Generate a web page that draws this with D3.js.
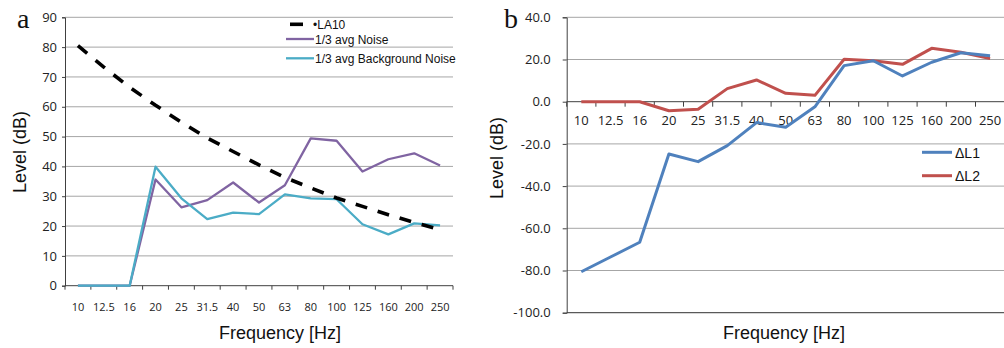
<!DOCTYPE html>
<html>
<head>
<meta charset="utf-8">
<script src="https://cdn.jsdelivr.net/npm/d3@7"></script>
<style>
    body { margin: 0; background: #fff; }
    svg { display: block; }
    .tick-label { font-family: "Open Sans", sans-serif; fill: #222; }
    .title { font-family: "Liberation Sans", Arial, sans-serif; fill: #111; }
    .panel { font-family: "Liberation Serif", "Times New Roman", serif; fill: #111; }
</style>
</head>
<body>
<svg id="chart" width="1004" height="348"></svg>
<script>
// shared categories (1/3 octave bands)
const freqs = ["10", "12.5", "16", "20", "25", "31.5", "40", "50", "63", "80", "100", "125", "160", "200", "250"];

// panel a
const la10 = [80.5, 73.3, 66.5, 60.5, 54.8, 49.5, 45.0, 40.5, 36.3, 32.8, 29.4, 26.6, 23.8, 21.2, 18.8];
const avgNoise = [0, 0, 0, 35.6, 26.3, 28.7, 34.6, 27.9, 33.7, 49.4, 48.6, 38.3, 42.4, 44.4, 40.3];
const bgNoise = [0, 0, 0, 39.9, 29.3, 22.3, 24.5, 24.0, 30.6, 29.3, 29.0, 20.6, 17.2, 20.9, 20.2];
const ticksA = [0, 10, 20, 30, 40, 50, 60, 70, 80, 90];

// panel b
const dL1 = [-80.6, -73.6, -66.6, -24.8, -28.4, -20.8, -9.9, -12.1, -2.4, 17.1, 19.4, 12.2, 18.7, 23.2, 21.8];
const dL2 = [0, 0, 0, -4.3, -3.6, 6.2, 10.3, 4.0, 3.0, 20.1, 19.4, 17.7, 25.3, 23.4, 20.4];
const ticksB = [-100, -80, -60, -40, -20, 0, 20, 40];

const svg = d3.select('#chart');

const gridCol = '#a6a6a6';
const axisCol = '#404040';

// ---------- panel a ----------
const xa = d3.scaleBand().domain(freqs).range([65, 453]).padding(0);
const ya = d3.scaleLinear().domain([0, 90]).range([285.7, 17.3]);
const cxa = d => xa(d) + xa.bandwidth() / 2;

const ga = svg.append('g');

ga.append('g').selectAll('line')
    .data(ticksA.filter(d => d > 0))
    .join('line')
    .attr('x1', xa.range()[0]).attr('x2', xa.range()[1])
    .attr('y1', d => ya(d)).attr('y2', d => ya(d))
    .attr('stroke', gridCol).attr('stroke-width', 1);

// y axis
const yAxisA = ga.append('g')
    .attr('transform', `translate(${xa.range()[0]},0)`)
    .call(d3.axisLeft(ya).tickValues(ticksA).tickSize(3).tickPadding(5).tickFormat(d3.format('d')));
yAxisA.select('.domain').attr('stroke', axisCol);
yAxisA.selectAll('.tick line').attr('stroke', axisCol);
yAxisA.selectAll('text').attr('class', 'tick-label').style('font-size', '13px');

// x axis at 0
ga.append('line')
    .attr('x1', xa.range()[0]).attr('x2', xa.range()[1])
    .attr('y1', ya(0)).attr('y2', ya(0))
    .attr('stroke', axisCol);
ga.append('g').selectAll('line')
    .data(d3.range(freqs.length + 1))
    .join('line')
    .attr('x1', i => xa.range()[0] + i * xa.bandwidth())
    .attr('x2', i => xa.range()[0] + i * xa.bandwidth())
    .attr('y1', ya(0)).attr('y2', ya(0) + 4)
    .attr('stroke', axisCol);
ga.append('g').selectAll('text')
    .data(freqs)
    .join('text')
    .attr('class', 'tick-label')
    .attr('x', cxa).attr('y', 311)
    .attr('text-anchor', 'middle')
    .style('font-size', '11px')
    .text(d => d);

const lineA = vals => d3.line().x((d, i) => cxa(freqs[i])).y(d => ya(d))(vals);

ga.append('path').attr('d', lineA(avgNoise))
    .attr('fill', 'none').attr('stroke', '#8064a2').attr('stroke-width', 2.3).attr('stroke-linejoin', 'round');
ga.append('path').attr('d', lineA(bgNoise))
    .attr('fill', 'none').attr('stroke', '#4bacc6').attr('stroke-width', 2.3).attr('stroke-linejoin', 'round');
ga.append('path').attr('d', lineA(la10))
    .attr('fill', 'none').attr('stroke', '#000').attr('stroke-width', 3.6)
    .attr('stroke-dasharray', '12,11');

// legend a
const legA = ga.append('g').attr('class', 'title').style('font-size', '12px');
legA.append('line').attr('x1', 290).attr('x2', 303).attr('y1', 24.3).attr('y2', 24.3)
    .attr('stroke', '#000').attr('stroke-width', 3.6);
legA.append('text').attr('x', 313).attr('y', 28.5).text('\u2022LA10');
legA.append('line').attr('x1', 286).attr('x2', 314).attr('y1', 39).attr('y2', 39)
    .attr('stroke', '#8064a2').attr('stroke-width', 2.3);
legA.append('text').attr('x', 315).attr('y', 43.5).text('1/3 avg Noise');
legA.append('line').attr('x1', 286).attr('x2', 314).attr('y1', 58.3).attr('y2', 58.3)
    .attr('stroke', '#4bacc6').attr('stroke-width', 2.3);
legA.append('text').attr('x', 315).attr('y', 62.5).text('1/3 avg Background Noise');

ga.append('text').attr('class', 'title').attr('x', 280).attr('y', 339)
    .attr('text-anchor', 'middle').style('font-size', '18px').text('Frequency [Hz]');
ga.append('text').attr('class', 'title')
    .attr('transform', 'translate(26,152) rotate(-90)')
    .attr('text-anchor', 'middle').style('font-size', '18px').text('Level (dB)');
ga.append('text').attr('class', 'panel').attr('x', 17).attr('y', 28)
    .style('font-size', '28px').text('a');

// ---------- panel b ----------
const xb = d3.scaleBand().domain(freqs).range([566.7, 1004.7]).padding(0);
const yb = d3.scaleLinear().domain([-100, 40]).range([312.7, 17.3]);
const cxb = d => xb(d) + xb.bandwidth() / 2;

const gb = svg.append('g');

gb.append('g').selectAll('line')
    .data(ticksB.filter(d => d !== 0))
    .join('line')
    .attr('x1', xb.range()[0]).attr('x2', xb.range()[1])
    .attr('y1', d => yb(d)).attr('y2', d => yb(d))
    .attr('stroke', d => d === -100 ? '#595959' : gridCol).attr('stroke-width', d => d === -100 ? 1.3 : 1);

const yAxisB = gb.append('g')
    .attr('transform', `translate(${xb.range()[0]},0)`)
    .call(d3.axisLeft(yb).tickValues(ticksB).tickSize(4).tickPadding(12).tickFormat(d => d.toFixed(1)));
yAxisB.select('.domain').attr('stroke', axisCol);
yAxisB.selectAll('.tick line').attr('stroke', axisCol);
yAxisB.selectAll('text').attr('class', 'tick-label').style('font-size', '13px');

gb.append('line')
    .attr('x1', xb.range()[0]).attr('x2', xb.range()[1])
    .attr('y1', yb(0)).attr('y2', yb(0))
    .attr('stroke', axisCol);
gb.append('g').selectAll('line')
    .data(d3.range(freqs.length + 1))
    .join('line')
    .attr('x1', i => xb.range()[0] + i * xb.bandwidth())
    .attr('x2', i => xb.range()[0] + i * xb.bandwidth())
    .attr('y1', yb(0)).attr('y2', yb(0) + 5)
    .attr('stroke', axisCol);
gb.append('g').selectAll('text')
    .data(freqs)
    .join('text')
    .attr('class', 'tick-label')
    .attr('x', cxb).attr('y', yb(0) + 23)
    .attr('text-anchor', 'middle')
    .style('font-size', '13px')
    .text(d => d);

const lineB = vals => d3.line().x((d, i) => cxb(freqs[i])).y(d => yb(d))(vals);

gb.append('path').attr('d', lineB(dL2))
    .attr('fill', 'none').attr('stroke', '#c0504d').attr('stroke-width', 3).attr('stroke-linejoin', 'round');
gb.append('path').attr('d', lineB(dL1))
    .attr('fill', 'none').attr('stroke', '#4f81bd').attr('stroke-width', 3).attr('stroke-linejoin', 'round');

const legB = gb.append('g').attr('class', 'title').style('font-size', '14px');
legB.append('line').attr('x1', 922).attr('x2', 952).attr('y1', 152.3).attr('y2', 152.3)
    .attr('stroke', '#4f81bd').attr('stroke-width', 3);
legB.append('text').attr('x', 955).attr('y', 157.5).text('\u0394L1');
legB.append('line').attr('x1', 922).attr('x2', 952).attr('y1', 175.7).attr('y2', 175.7)
    .attr('stroke', '#c0504d').attr('stroke-width', 3);
legB.append('text').attr('x', 955).attr('y', 180.5).text('\u0394L2');

gb.append('text').attr('class', 'title').attr('x', 784).attr('y', 339)
    .attr('text-anchor', 'middle').style('font-size', '18px').text('Frequency [Hz]');
gb.append('text').attr('class', 'title')
    .attr('transform', 'translate(503,158) rotate(-90)')
    .attr('text-anchor', 'middle').style('font-size', '18px').text('Level (dB)');
gb.append('text').attr('class', 'panel').attr('x', 504).attr('y', 28)
    .style('font-size', '28px').text('b');
</script>
</body>
</html>
